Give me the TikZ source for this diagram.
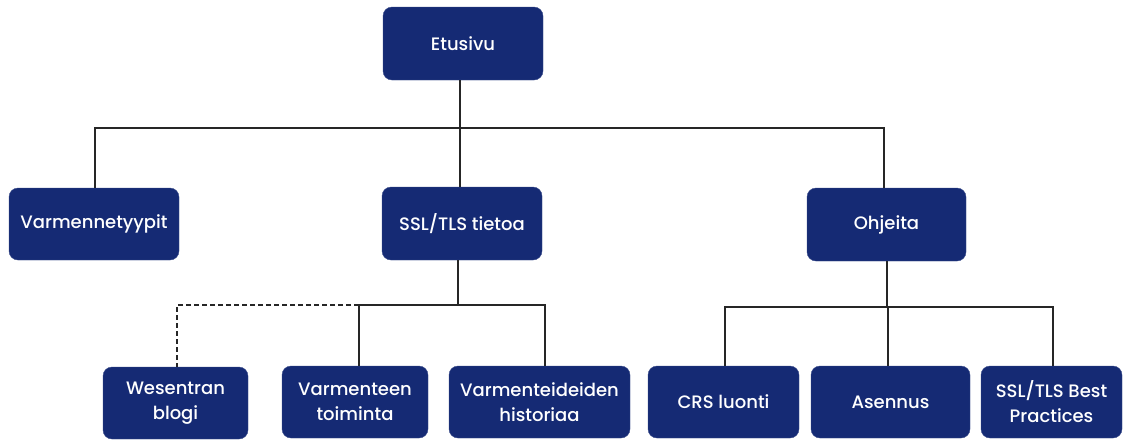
\documentclass[tikz,border=0pt]{standalone}
\usepackage{fontspec}
\setmainfont{Poppins}[UprightFont={* Medium}]
\definecolor{navy}{HTML}{152A74}
\begin{document}
\begin{tikzpicture}[x=1pt,y=-1pt,
  box/.style={draw=navy!85!white,fill=navy,rounded corners=9pt,text=white,align=center,
    font=\fontsize{18}{25}\selectfont,inner sep=0pt},
  conn/.style={draw=black!85,line width=1.4pt},
  dconn/.style={conn,dashed,dash pattern=on 5pt off 3pt}]
\useasboundingbox (0,0) rectangle (1127,440);
% level 0
\node[box,minimum width=160pt,minimum height=73pt] (et) at (463,43.5) {Etusivu};
% level 1
\node[box,minimum width=170pt,minimum height=72pt] (vt) at (94,224) {Varmennetyypit};
\node[box,minimum width=160pt,minimum height=73pt] (ssl) at (462,223.5) {SSL/TLS tietoa};
\node[box,minimum width=159pt,minimum height=73pt] (oh) at (886.5,224.5) {Ohjeita};
% level 2
\node[box,minimum width=145pt,minimum height=72pt] (we) at (175.5,403) {Wesentran\\blogi};
\node[box,minimum width=146pt,minimum height=72pt] (vto) at (355,402) {Varmenteen\\toiminta};
\node[box,minimum width=181pt,minimum height=72pt] (vh) at (539.5,402) {Varmenteideiden\\historiaa};
\node[box,minimum width=151pt,minimum height=72pt] (crs) at (723.5,402) {CRS luonti};
\node[box,minimum width=159pt,minimum height=72pt] (as) at (890.5,402) {Asennus};
\node[box,minimum width=141pt,minimum height=72pt] (bp) at (1051.5,402) {SSL/TLS Best\\Practices};
% bus coordinates
\coordinate (b0) at (460,128);
\coordinate (b1) at (458,305);
\coordinate (b2) at (887,307);
% level 0 -> 1
\draw[conn] ([xshift=-3pt]et.south) -- (b0);
\draw[conn] ([xshift=1pt]vt.north) -- ([xshift=1pt]vt.north |- b0) -- ([xshift=-2.5pt]oh.north |- b0) -- ([xshift=-2.5pt]oh.north);
\draw[conn] ([xshift=-2pt]ssl.north) -- ([xshift=-2pt]ssl.north |- b0);
% SSL -> children
\draw[conn] ([xshift=-4pt]ssl.south) -- (b1);
\draw[conn] ([xshift=4pt]vto.north) -- ([xshift=4pt]vto.north |- b1) -- ([xshift=5.5pt]vh.north |- b1) -- ([xshift=5.5pt]vh.north);
\draw[dconn] ([xshift=4pt]vto.north |- b1) -- ([xshift=1.5pt]we.north |- b1) -- ([xshift=1.5pt]we.north);
% Ohjeita -> children
\draw[conn] ([xshift=0.5pt]oh.south) -- (b2);
\draw[conn] ([xshift=1.5pt]crs.north) -- ([xshift=1.5pt]crs.north |- b2) -- ([xshift=1.5pt]bp.north |- b2) -- ([xshift=1.5pt]bp.north);
\draw[conn] ([xshift=-2.5pt]as.north) -- ([xshift=-2.5pt]as.north |- b2);
\end{tikzpicture}
\end{document}
